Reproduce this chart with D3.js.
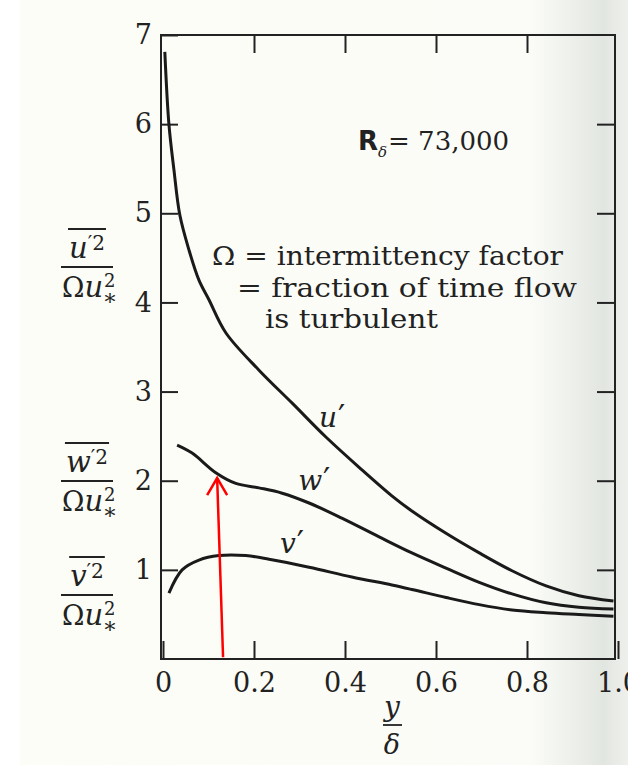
<!DOCTYPE html>
<html>
<head>
  <meta charset="utf-8">
  <script src="https://cdn.jsdelivr.net/npm/d3@7"></script>
  <style>
    body { margin: 0; background: #fff; }
    text { fill: #222; }
  </style>
</head>
<body>
  <svg id="chart" width="628" height="765"></svg>
  <script>
    // values: [y/delta, value]
    let uPrime = [[0.004, 6.81], [0.013, 6.0], [0.024, 5.49], [0.037, 4.98], [0.057, 4.59],
                  [0.079, 4.25], [0.101, 4.03], [0.138, 3.66], [0.211, 3.24], [0.284, 2.87],
                  [0.358, 2.49], [0.431, 2.15], [0.503, 1.83], [0.547, 1.66], [0.622, 1.41],
                  [0.695, 1.19], [0.767, 0.99], [0.842, 0.82], [0.914, 0.71], [0.99, 0.65]]
    let wPrime = [[0.031, 2.40], [0.064, 2.31], [0.116, 2.09], [0.160, 1.97], [0.211, 1.92],
                  [0.262, 1.86], [0.321, 1.75], [0.393, 1.58], [0.475, 1.37], [0.547, 1.19],
                  [0.622, 1.02], [0.695, 0.86], [0.767, 0.73], [0.842, 0.63], [0.914, 0.58],
                  [0.99, 0.56]]
    let vPrime = [[0.013, 0.74], [0.042, 1.0], [0.079, 1.11], [0.123, 1.16], [0.182, 1.16],
                  [0.233, 1.12], [0.321, 1.03], [0.415, 0.92], [0.503, 0.83], [0.547, 0.78],
                  [0.622, 0.69], [0.695, 0.61], [0.767, 0.55], [0.842, 0.52], [0.914, 0.50],
                  [0.99, 0.48]]
    let xTicks = [0, 0.2, 0.4, 0.6, 0.8, 1.0]
    let yTicks = [1, 2, 3, 4, 5, 6, 7]
    let arrow = [[0.132, 0.02], [0.119, 2.03]]

    let svg = d3.select("#chart")
    let serif = "'DejaVu Serif', serif"

    // paper
    let defs = svg.append("defs")
    let g = defs.append("linearGradient").attr("id", "paper")
    g.append("stop").attr("offset", "0").attr("stop-color", "#fdfdf7")
    g.append("stop").attr("offset", "0.84").attr("stop-color", "#fbfcf7")
    g.append("stop").attr("offset", "0.96").attr("stop-color", "#e2e6e1")
    g.append("stop").attr("offset", "1").attr("stop-color", "#eef0ec")
    svg.append("rect").attr("x", 20).attr("y", 0).attr("width", 608).attr("height", 765)
       .attr("fill", "url(#paper)")

    let x = d3.scaleLinear().domain([0, 1]).range([163, 618])
    let y = d3.scaleLinear().domain([0, 7]).range([659, 35])
    let left = x(0) - 2, right = x(1) - 3

    // frame
    svg.append("rect")
       .attr("x", left).attr("y", y(7))
       .attr("width", right - left).attr("height", y(0) - y(7))
       .attr("fill", "none").attr("stroke", "#222").attr("stroke-width", 2)

    function styleAxis(sel) {
      sel.select(".domain").remove()
      sel.selectAll("line").attr("stroke", "#222").attr("stroke-width", 2)
      sel.selectAll("text").attr("font-family", serif).attr("font-size", 27).attr("fill", "#222")
    }

    svg.append("g").attr("transform", `translate(0,${y(0)})`)
       .call(d3.axisBottom(x).tickValues(xTicks).tickSizeInner(-18).tickSizeOuter(0)
               .tickPadding(14).tickFormat(d => d === 0 ? "0" : d3.format(".1f")(d)))
       .call(styleAxis)

    svg.append("g").attr("transform", `translate(0,${y(7)})`)
       .call(d3.axisTop(x).tickValues([0.2, 0.4, 0.6, 0.8]).tickSizeInner(-18).tickSizeOuter(0).tickFormat(""))
       .call(styleAxis)

    svg.append("g").attr("transform", `translate(${left},0)`)
       .call(d3.axisLeft(y).tickValues(yTicks).tickSizeInner(-17).tickSizeOuter(0)
               .tickPadding(9).tickFormat(d3.format("d")))
       .call(styleAxis)

    svg.append("g").attr("transform", `translate(${right},0)`)
       .call(d3.axisRight(y).tickValues(yTicks.slice(0, 6)).tickSizeInner(-18).tickSizeOuter(0).tickFormat(""))
       .call(styleAxis)

    // curves
    let line = d3.line().x(d => x(d[0])).y(d => y(d[1])).curve(d3.curveCatmullRom.alpha(0.5))
    for (let s of [uPrime, wPrime, vPrime]) {
      svg.append("path").attr("d", line(s))
         .attr("fill", "none").attr("stroke", "#1a1a1a").attr("stroke-width", 3)
    }

    // curve labels
    let curveLabels = [["u", 0.343, 2.60], ["w", 0.297, 1.90], ["v", 0.257, 1.19]]
    for (let [t, cx, cy] of curveLabels) {
      let tx = svg.append("text").attr("x", x(cx)).attr("y", y(cy))
                  .attr("font-family", serif).attr("font-size", 28)
      tx.append("tspan").attr("font-style", "italic").text(t)
      tx.append("tspan").attr("font-size", 32).attr("dx", 1).text("′")
    }

    // y-axis fraction labels
    function fraction(bar, sym) {
      let cx = 87
      let num = svg.append("text").attr("x", cx).attr("y", bar - 9)
                   .attr("text-anchor", "middle").attr("font-family", serif)
      num.append("tspan").attr("font-style", "italic").attr("font-size", 29).text(sym)
      num.append("tspan").attr("font-size", 20).attr("dy", -8).text("′2")
      let bb = num.node().getBBox()
      svg.append("line").attr("x1", bb.x - 1).attr("x2", bb.x + bb.width + 1)
         .attr("y1", bar - 38).attr("y2", bar - 38)
         .attr("stroke", "#222").attr("stroke-width", 1.8)
      svg.append("line").attr("x1", 61).attr("x2", 113).attr("y1", bar).attr("y2", bar)
         .attr("stroke", "#222").attr("stroke-width", 1.8)
      let den = svg.append("text").attr("x", 62).attr("y", bar + 30).attr("font-family", serif)
      den.append("tspan").attr("font-size", 27).text("Ω")
      den.append("tspan").attr("font-style", "italic").attr("font-size", 29).text("u")
      den.append("tspan").attr("font-size", 18).attr("dx", 1).attr("dy", -10).text("2")
      den.append("tspan").attr("font-size", 22).attr("dx", -13).attr("dy", 18).text("∗")
    }
    fraction(267, "u")
    fraction(481, "w")
    fraction(595, "v")

    // x-axis label
    svg.append("text").attr("x", 392).attr("y", 716).attr("text-anchor", "middle")
       .attr("font-family", serif).attr("font-style", "italic").attr("font-size", 28).text("y")
    svg.append("line").attr("x1", 383).attr("x2", 402).attr("y1", 725).attr("y2", 725)
       .attr("stroke", "#222").attr("stroke-width", 1.8)
    svg.append("text").attr("x", 392).attr("y", 754).attr("text-anchor", "middle")
       .attr("font-family", serif).attr("font-style", "italic").attr("font-size", 27).text("δ")

    // Reynolds number
    let re = svg.append("text").attr("x", 358).attr("y", 150).attr("font-family", serif)
    re.append("tspan").attr("font-family", "'DejaVu Sans', sans-serif").attr("font-weight", "bold")
      .attr("font-size", 26).text("R")
    re.append("tspan").attr("font-style", "italic").attr("font-size", 15).attr("dy", 7).text("δ")
    re.append("tspan").attr("font-size", 26).attr("dx", 1).attr("dy", -7).text("= 73,000")

    // note
    let note = [["Ω = intermittency factor", 212, 265, 351],
                ["= fraction of time flow", 237, 297, 340],
                ["is turbulent", 265, 328, 173]]
    for (let [t, tx, ty, w] of note) {
      svg.append("text").attr("x", tx).attr("y", ty)
         .attr("font-family", serif).attr("font-size", 26)
         .attr("textLength", w).attr("lengthAdjust", "spacingAndGlyphs").text(t)
    }

    // red arrow
    let [a0, a1] = arrow.map(d => [x(d[0]), y(d[1])])
    let red = svg.append("g").attr("stroke", "#ff0000").attr("stroke-width", 2.5).attr("fill", "none")
    red.append("line").attr("x1", a0[0]).attr("y1", a0[1]).attr("x2", a1[0]).attr("y2", a1[1])
    red.append("polyline")
       .attr("points", `${a1[0] - 10},${a1[1] + 17} ${a1[0]},${a1[1]} ${a1[0] + 10},${a1[1] + 17}`)
  </script>
</body>
</html>
